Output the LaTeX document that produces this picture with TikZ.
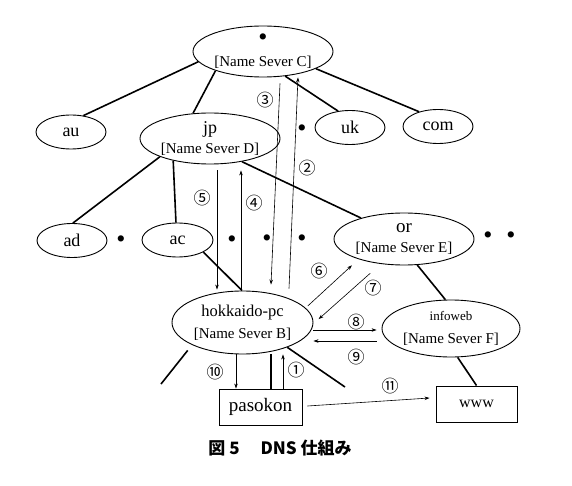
\documentclass[tikz,border=0pt]{standalone}
\usepackage{fontspec}
\setmainfont{Liberation Serif}
\newfontfamily\jpfont{Noto Sans CJK JP}
\usetikzlibrary{shapes.geometric,arrows.meta}

\tikzstyle{domnode} = [draw=black, ellipse, line width=0.9pt, inner sep=0pt,
    minimum width=70pt, minimum height=34pt, font=\fontsize{18}{20}\selectfont]
\tikzstyle{server} = [domnode, inner sep=-12pt, align=center,
    minimum width=140pt, minimum height=51pt, font=\fontsize{15}{20}\selectfont]
\tikzstyle{hostbox} = [draw=black, rectangle, line width=0.9pt, inner sep=0pt,
    minimum width=82pt, minimum height=36pt]
\tikzstyle{treeline} = [line width=1.6pt]
\tikzstyle{msg} = [line width=0.6pt, -{Stealth[length=5pt,width=3.5pt]}]
\tikzstyle{stepnum} = [inner sep=0pt, font=\jpfont\fontsize{17}{17}\selectfont]
\tikzstyle{smalldot} = [inner sep=0pt, font=\fontsize{26}{26}\selectfont]

\begin{document}
\begin{tikzpicture}[x=1pt, y=-1pt]
\useasboundingbox (0,0) rectangle (572,486);

% name servers
\node[server] (C) at (263,51.5) {{\fontsize{26}{20}\selectfont\textbullet}\\[1pt]{[}Name Sever C]};
\node[server] (jp) at (210,138.5) {{\fontsize{18}{18}\selectfont jp}\\{[}Name Sever D]};
\node[server, minimum height=52pt] (or) at (404,239) {{\fontsize{19}{19}\selectfont or}\\{[}Name Sever E]};
\node[server, minimum width=141pt, minimum height=63pt] (B) at (242.5,322.5)
    {{\fontsize{16.5}{17}\selectfont hokkaido-pc}\\[2pt]{[}Name Sever B]};
\node[server, minimum width=138pt, minimum height=57pt] (F) at (451,328.5)
    {{\fontsize{13}{14}\selectfont infoweb}\\[3pt]{[}Name Sever F]};

% other domains
\node[domnode] (au) at (71,132) {au};
\node[domnode] (uk) at (350,127.5) {uk};
\node[domnode] (com) at (438,126.5) {com};
\node[domnode] (ad) at (72,240.5) {ad};
\node[domnode, minimum width=71pt] (ac) at (177.5,240) {ac};

% hosts
\node[hostbox, minimum width=83pt, font=\fontsize{19}{20}\selectfont] (pasokon) at (260.5,407) {pasokon};
\node[hostbox, minimum width=81pt, font=\fontsize{16}{18}\selectfont] (www) at (476.5,404) {www};

% dots
\node[smalldot] (d1) at (302,131) {\textbullet};
\node[smalldot] (d2) at (121,242) {\textbullet};
\node[smalldot] (d3) at (232,242) {\textbullet};
\node[smalldot] (d4) at (267,241) {\textbullet};
\node[smalldot] (d5) at (302,241) {\textbullet};
\node[smalldot] (d6) at (488,238) {\textbullet};
\node[smalldot] (d7) at (511,238) {\textbullet};

\coordinate (bl) at (161,384);
\coordinate (br) at (345,387);

% tree
\draw[treeline] (C.189) -- (au.53);
\draw[treeline] (C.202) -- (jp.124);
\draw[treeline] (C.312) -- (uk.126);
\draw[treeline] (C.342) -- (com.142);
\draw[treeline] (jp.200) -- (ad.87);
\draw[treeline] (jp.211) -- (ac.95);
\draw[treeline] (jp.324) -- (or.154);
\draw[treeline] (ac.335) -- (B.91);
\draw[treeline] (or.297) -- (F.101);
\draw[treeline] (F.283) -- (www.north);
\draw[treeline] ([xshift=28.5pt]B.south) -- ([xshift=10.5pt]pasokon.north);
\draw[treeline, shorten <=7pt] (B.204) -- (bl);
\draw[treeline] (B.331.5) -- (br);

% queries
\draw[msg] ([xshift=22.5pt]pasokon.north) -- ([xshift=40.5pt]B.south);
\draw[msg] ([xshift=46.5pt,yshift=2pt]B.north) -- ([xshift=35pt]C.south);
\draw[msg] ([xshift=17pt,yshift=-6pt]C.south) -- ([xshift=28.5pt,yshift=6pt]B.north);
\draw[msg] ([xshift=-1.5pt,yshift=1pt]B.north) -- ([xshift=31pt,yshift=-6pt]jp.south);
\draw[msg] ([xshift=7pt,yshift=-6pt]jp.south) -- ([xshift=-25.5pt,yshift=1pt]B.north);
\draw[msg, shorten <=3pt, shorten >=9pt] (B.13) -- (or.204);
\draw[msg, shorten <=14pt, shorten >=7pt] (or.227) -- (B.359);
\draw[msg] ([yshift=-7.5pt]B.east) -- ([xshift=-5pt,yshift=-1.5pt]F.west);
\draw[msg] ([xshift=-5pt,yshift=-12.5pt]F.west) -- ([yshift=-18.5pt]B.east);
\draw[msg] ([xshift=-6.5pt]B.south) -- ([xshift=-24.5pt]pasokon.north);
\draw[msg] ([xshift=5pt,yshift=1pt]pasokon.east) -- ([xshift=-6pt,yshift=6pt]www.west);

% step numbers
\node[stepnum] (n1) at (296,370) {①};
\node[stepnum] (n2) at (307,168) {②};
\node[stepnum] (n3) at (265,100) {③};
\node[stepnum] (n4) at (254,203) {④};
\node[stepnum] (n5) at (202,198) {⑤};
\node[stepnum] (n6) at (319,271) {⑥};
\node[stepnum] (n7) at (373,288) {⑦};
\node[stepnum] (n8) at (356,322) {⑧};
\node[stepnum] (n9) at (356,357) {⑨};
\node[stepnum] (n10) at (215,372) {⑩};
\node[stepnum] (n11) at (390,386) {⑪};

\node[font=\jpfont\bfseries\fontsize{17}{17}\selectfont] (cap) at (280,448) {図 5　 DNS 仕組み};
\end{tikzpicture}
\end{document}
